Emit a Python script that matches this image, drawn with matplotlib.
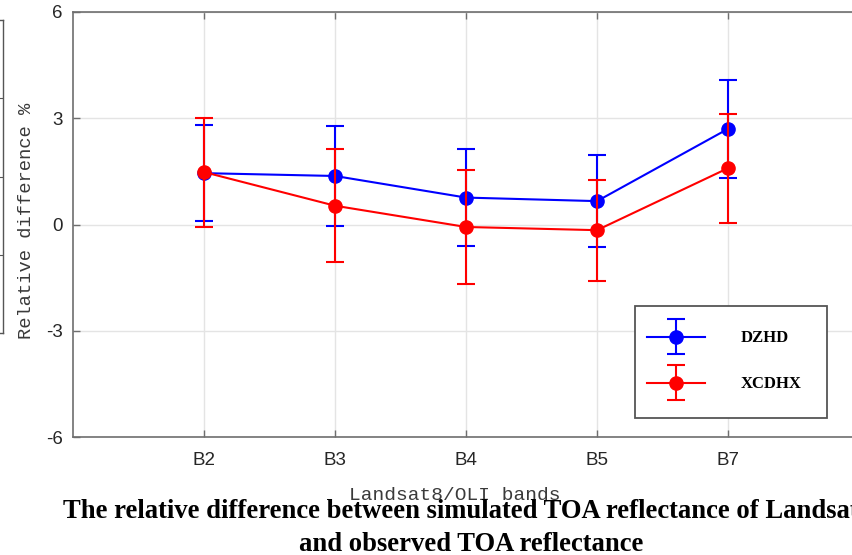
import matplotlib
matplotlib.use("Agg")
import matplotlib.pyplot as plt
from matplotlib.patches import Rectangle
from matplotlib.container import ErrorbarContainer
from matplotlib.legend_handler import HandlerErrorbar

plt.rcParams['axes.unicode_minus'] = False  # plain hyphen like the original

# bands on the x axis
bands = ["B2", "B3", "B4", "B5", "B7"]
xpos = [1, 2, 3, 4, 5]

# relative difference (%) and error bar half-lengths
dzhd_mean = [1.45, 1.37, 0.76, 0.66, 2.70]
dzhd_err = [1.35, 1.42, 1.37, 1.29, 1.38]
xcdhx_mean = [1.48, 0.53, -0.07, -0.16, 1.59]
xcdhx_err = [1.54, 1.60, 1.60, 1.43, 1.54]

W, H = 853, 555
fig = plt.figure(figsize=(W / 100, H / 100), dpi=100)

def fx(px):
    return px / W

def fy(py):
    return 1 - py / H

# axes box: left spine x=73, right ~859, top y=12, bottom y=437
ax = fig.add_axes([fx(73), fy(437), fx(859 - 73), (437 - 12) / H])

# remnant of the neighbouring panel on the far left
ax0 = fig.add_axes([fx(-120), fy(333), fx(123), (333 - 20) / H])
ax0.set_xlim(0, 1)
ax0.set_ylim(0, 4)
ax0.set_xticks([])
ax0.set_yticks([1, 2, 3])
ax0.set_yticklabels([])
ax0.tick_params(axis="y", direction="in", left=False, right=True, length=3, color="#555555")
for s in ax0.spines.values():
    s.set_color("#555555")
    s.set_linewidth(1.0)

style = dict(lw=1.5, marker="o", markersize=9.5, capsize=6.2, capthick=1.5, elinewidth=1.5)
eb1 = ax.errorbar(xpos, dzhd_mean, yerr=dzhd_err, color="#0000ff", label="DZHD", zorder=3, **style)
eb2 = ax.errorbar(xpos, xcdhx_mean, yerr=xcdhx_err, color="#ff0000", label="XCDHX", zorder=3.1, **style)

ax.set_xlim(0, 6)
ax.set_ylim(-6, 6)
ax.set_xticks(xpos)
ax.set_xticklabels(bands)
ax.set_yticks([-6, -3, 0, 3, 6])
ax.grid(True, color="#e4e4e4", lw=1.0)
ax.set_axisbelow(True)
ax.tick_params(direction="in", length=5, width=1.0, color="#6e6e6e",
               top=True, right=True, labelsize=13.5, labelcolor="#262626")
ax.tick_params(axis="x", pad=10.5)
ax.tick_params(axis="y", pad=7.5)
for lab in ax.get_xticklabels() + ax.get_yticklabels():
    lab.set_fontfamily("Liberation Sans")
for s in ax.spines.values():
    s.set_color("#6e6e6e")
    s.set_linewidth(1.2)

# legend box drawn as a rectangle, legend itself frameless
ax.add_patch(Rectangle((fx(635), fy(418)), fx(827 - 635), (418 - 306) / H,
                       transform=fig.transFigure, facecolor="white",
                       edgecolor="#555555", lw=1.3, zorder=4, clip_on=False))
leg = ax.legend(handles=[eb1, eb2], loc="center left",
                bbox_to_anchor=(fx(647), fy(361.5)), bbox_transform=fig.transFigure,
                frameon=False, borderpad=0, borderaxespad=0,
                handlelength=3.5, handletextpad=2.1, labelspacing=1.8,
                prop={"family": "Liberation Serif", "weight": "bold", "size": 12},
                handler_map={ErrorbarContainer: HandlerErrorbar(yerr_size=1.05)})
leg.set_zorder(5)

# axis labels (monospace, greyish)
fig.text(fx(27), fy(220.5), "Relative difference %", rotation=90, ha="center", va="center",
         family="Liberation Mono", fontsize=13.5, color="#3a3a3a")
fig.text(fx(454.5), fy(500), "Landsat8/OLI bands", ha="center", va="baseline",
         family="Liberation Mono", fontsize=14, color="#3a3a3a")

# caption of the paper figure, overlapping the x label
cap = dict(family="Liberation Serif", weight="bold", fontsize=19.2, color="black", va="baseline")
fig.text(fx(63), fy(518), "The relative difference between simulated TOA reflectance of Landsat8/OLI",
         ha="left", **cap)
fig.text(fx(471.5), fy(551), "and observed TOA reflectance", ha="center", **cap)

fig.savefig("out.png", dpi=100)
